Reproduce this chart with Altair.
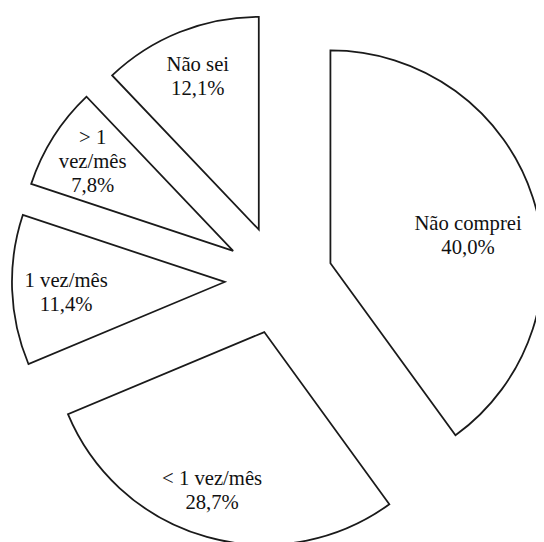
import math
import altair as alt
import pandas as pd

# Data
categories = ["Não comprei", "< 1 vez/mês", "1 vez/mês", "> 1 vez/mês", "Não sei"]
label_text = ["Não comprei", "< 1 vez/mês", "1 vez/mês", "> 1\nvez/mês", "Não sei"]
values = [40.0, 28.7, 11.4, 7.8, 12.1]

# Label placement tweaks (fraction of radius, angular shift in degrees)
label_r = [0.659, 0.787, 0.747, 0.782, 0.773]
label_shift = [7.0, 2.5, -1.7, 0.0, 0.0]

W, H = 536, 534
R = 216.0              # pie radius in px
CX, CY = 275.0, 272.0  # pie centre inside the chart, px
EXPLODE = 55.0 / R     # explode distance in radius units
LH = 24.5              # label line height, px

df = pd.DataFrame({
    "order": list(range(len(categories))),
    "category": categories,
    "label": label_text,
    "value": values,
    "lr": label_r,
    "ls": label_shift,
})

xs = alt.Scale(domain=[-CX / R, (W - CX) / R])
ys = alt.Scale(domain=[-(H - CY) / R, CY / R])

base = alt.Chart(df).transform_window(
    cum="sum(value)", sort=[alt.SortField("order")]
).transform_calculate(
    t1="datum.cum",
    t0="datum.cum - datum.value",
    txt="datum.label + '\\n' + replace(format(datum.value, '.1f'), '.', ',') + '%'",
).transform_calculate(
    mid="(datum.t0 + datum.t1) / 2 * 2 * PI / 100",
    nl="length(split(datum.txt, '\\n'))",
).transform_calculate(
    cx=f"{EXPLODE} * sin(datum.mid)",
    cy=f"{EXPLODE} * cos(datum.mid)",
).transform_calculate(
    lx="datum.cx + datum.lr * sin(datum.mid + datum.ls * PI / 180)",
    ly=f"datum.cy + datum.lr * cos(datum.mid + datum.ls * PI / 180) + (datum.nl - 1) / 2 * {LH / R}",
)

arcs = base.mark_arc(
    outerRadius=R, fill="white", stroke="#1a1a1a", strokeWidth=1.8, strokeJoin="miter"
).encode(
    x=alt.X("cx:Q", scale=xs, axis=None),
    y=alt.Y("cy:Q", scale=ys, axis=None),
    theta=alt.Theta("t0:Q", scale=alt.Scale(domain=[0, 100], range=[0, 2 * math.pi])),
    theta2="t1:Q",
)

labels = base.mark_text(
    font="Liberation Serif",
    fontSize=21, lineHeight=LH, color="#111111",
    align="center", baseline="middle", lineBreak="\n",
).encode(
    x=alt.X("lx:Q", scale=xs, axis=None),
    y=alt.Y("ly:Q", scale=ys, axis=None),
    text="txt:N",
)

chart = alt.layer(arcs, labels).properties(
    width=W, height=H, padding=0, autosize="none", background="white"
).configure_view(stroke=None)

chart.save("out.html", embed_options={"renderer": "svg", "actions": False})
